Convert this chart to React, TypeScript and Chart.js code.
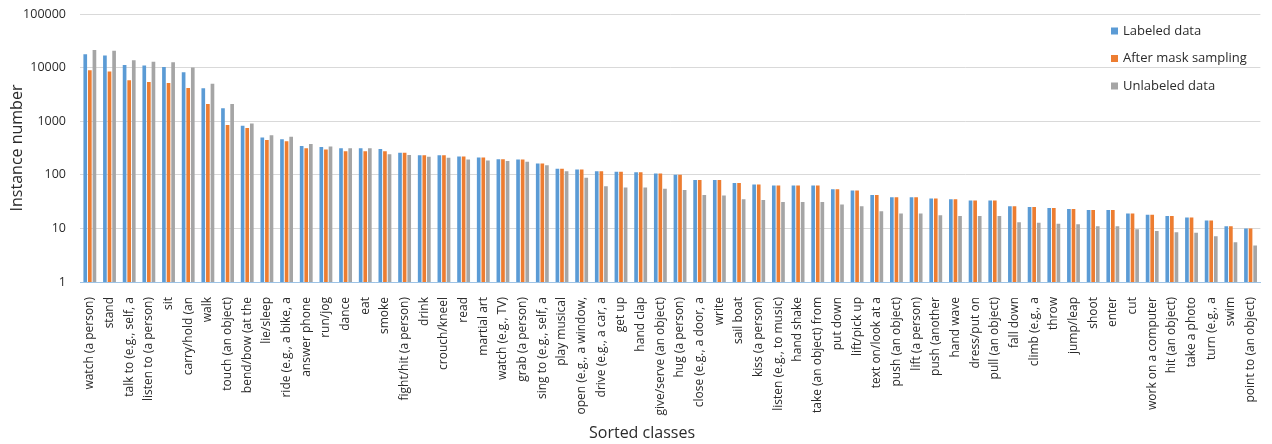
import React, { useEffect, useRef } from "react";
import { Chart, registerables } from "chart.js";

Chart.register(...registerables);

const categories: string[] = [
  "watch (a person)", "stand", "talk to (e.g., self, a", "listen to (a person)", "sit",
  "carry/hold (an", "walk", "touch (an object)", "bend/bow (at the", "lie/sleep",
  "ride (e.g., a bike, a", "answer phone", "run/jog", "dance", "eat",
  "smoke", "fight/hit (a person)", "drink", "crouch/kneel", "read",
  "martial art", "watch (e.g., TV)", "grab (a person)", "sing to (e.g., self, a", "play musical",
  "open (e.g., a window,", "drive (e.g., a car, a", "get up", "hand clap", "give/serve (an object)",
  "hug (a person)", "close (e.g., a door, a", "write", "sail boat", "kiss (a person)",
  "listen (e.g., to music)", "hand shake", "take (an object) from", "put down", "lift/pick up",
  "text on/look at a", "push (an object)", "lift (a person)", "push (another", "hand wave",
  "dress/put on", "pull (an object)", "fall down", "climb (e.g., a", "throw",
  "jump/leap", "shoot", "enter", "cut", "work on a computer",
  "hit (an object)", "take a photo", "turn (e.g., a", "swim", "point to (an object)",
];

const labeledData: number[] = [
  17700, 16900, 11200, 10900, 10300, 8200, 4100, 1740, 820, 497,
  461, 346, 331, 313, 313, 303, 257, 232, 232, 220,
  211, 196, 193, 163, 129, 126, 117, 114, 111, 106,
  100, 80, 80, 70, 66, 63, 63, 63, 54, 51,
  42, 38, 38, 36, 35, 33, 33, 26, 25, 24,
  23, 22, 22, 19, 18, 17, 16, 14, 11, 10,
];

const maskSampledData: number[] = [
  8900, 8500, 5800, 5400, 5160, 4170, 2100, 850, 750, 448,
  424, 313, 296, 275, 275, 275, 257, 232, 232, 220,
  211, 196, 193, 163, 129, 126, 117, 114, 111, 106,
  100, 80, 80, 70, 66, 63, 63, 63, 54, 51,
  42, 38, 38, 36, 35, 33, 33, 26, 25, 24,
  23, 22, 22, 19, 18, 17, 16, 14, 11, 10,
];

const unlabeledData: number[] = [
  21300, 20700, 13700, 12900, 12600, 10000, 5000, 2100, 905, 548,
  510, 377, 337, 313, 313, 242, 235, 218, 207, 193,
  185, 180, 175, 150, 117, 88, 61, 58, 58, 55,
  52, 42, 41, 35, 34, 31, 31, 31, 28, 26,
  21, 19, 19, 17.5, 17, 17, 17, 13, 12.7, 12.2,
  11.9, 11, 11, 9.6, 8.9, 8.5, 8.3, 7.1, 5.5, 4.8,
];

const yTickValues: number[] = [1, 10, 100, 1000, 10000, 100000];

const seriesNames: string[] = ["Labeled data", "After mask sampling", "Unlabeled data"];
const seriesColors: string[] = ["#5B9BD5", "#ED7D31", "#A5A5A5"];

const FONT = "'Open Sans', sans-serif";
const TEXT = "#2b2b2b";

const overlayPlugin = {
  id: "overlayText",
  afterDraw(chart: any) {
    const ctx = chart.ctx as CanvasRenderingContext2D;
    ctx.save();
    // legend
    ctx.font = `13px ${FONT}`;
    ctx.textBaseline = "middle";
    ctx.textAlign = "left";
    const rows = [31, 58.5, 86];
    chart.data.datasets.forEach((ds: any, i: number) => {
      const y = rows[i];
      ctx.fillStyle = ds.backgroundColor;
      ctx.fillRect(1111, y - 3.5, 7, 7);
      ctx.fillStyle = TEXT;
      ctx.fillText(ds.label, 1123, y);
    });
    // x title
    ctx.font = `16px ${FONT}`;
    ctx.textAlign = "center";
    ctx.fillText("Sorted classes", 642, 433);
    ctx.restore();
  },
};

export default function App() {
  const canvasRef = useRef<HTMLCanvasElement | null>(null);

  useEffect(() => {
    if (!canvasRef.current) return;
    const chart = new Chart(canvasRef.current, {
      type: "bar",
      data: {
        labels: categories,
        datasets: [labeledData, maskSampledData, unlabeledData].map((d, i) => ({
          label: seriesNames[i],
          data: d,
          backgroundColor: seriesColors[i],
          borderWidth: 0,
          categoryPercentage: 0.7,
          barPercentage: 0.8,
        })),
      },
      options: {
        animation: false,
        responsive: false,
        maintainAspectRatio: false,
        layout: { padding: { top: 14, right: 6, left: 0, bottom: 0 } },
        plugins: {
          legend: { display: false },
          tooltip: { enabled: false },
        },
        scales: {
          x: {
            type: "category",
            grid: { display: false },
            border: { display: true, color: "#9DC3E6", width: 1 },
            ticks: {
              autoSkip: false,
              maxRotation: 90,
              minRotation: 90,
              padding: 7,
              color: TEXT,
              font: { family: FONT, size: 12 },
            },
            afterFit(scale: any) {
              scale.height = 162;
            },
          },
          y: {
            type: "logarithmic",
            min: 1,
            max: 100000,
            grid: { color: "#D9D9D9", lineWidth: 1, drawTicks: false },
            border: { display: false },
            ticks: {
              padding: 14,
              color: TEXT,
              font: { family: FONT, size: 12.5 },
              callback: (v: any) => String(v),
            },
            afterBuildTicks(scale: any) {
              scale.ticks = yTickValues.map((v) => ({ value: v }));
            },
            afterFit(scale: any) {
              scale.width = 80;
              scale.paddingTop = 0;
              scale.paddingBottom = 0;
            },
            title: {
              display: true,
              text: "Instance number",
              color: TEXT,
              font: { family: FONT, size: 16 },
              padding: { top: 8, bottom: 4 },
            },
          },
        },
      },
      plugins: [overlayPlugin],
    });
    return () => chart.destroy();
  }, []);

  return (
    <div style={{ position: "fixed", left: 0, top: 0, width: 1272, height: 444, background: "#fff" }}>
      <canvas ref={canvasRef} width={1272} height={444} style={{ width: 1272, height: 444 }} />
    </div>
  );
}
